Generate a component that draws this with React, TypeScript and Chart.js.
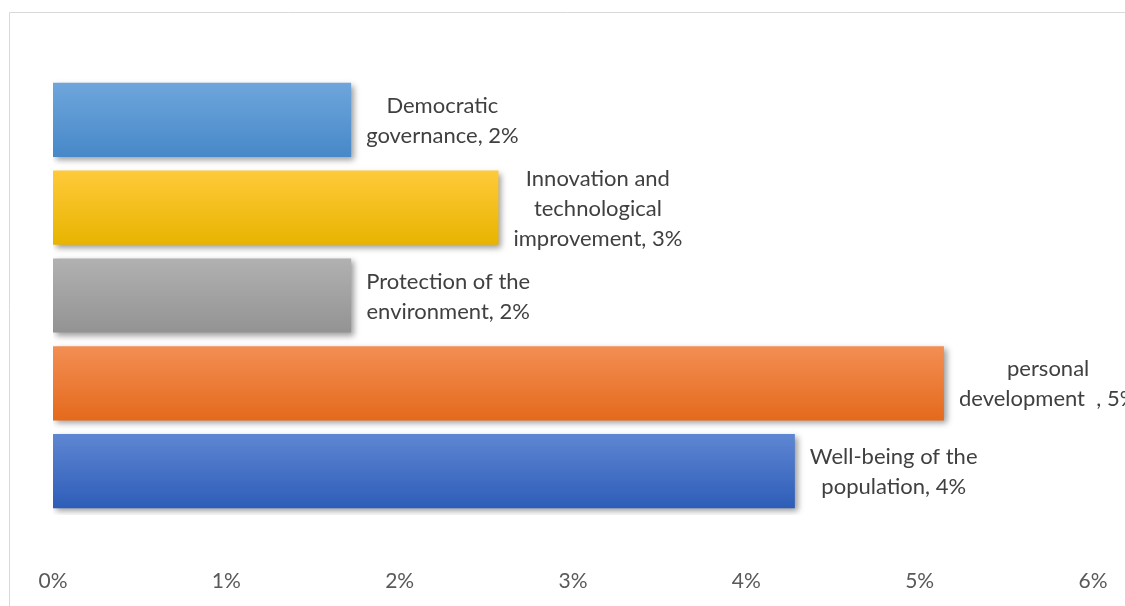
import React, { useEffect, useRef } from "react";
import { Chart, registerables } from "chart.js";

Chart.register(...registerables);

const categories: string[][] = [
  ["Democratic", "governance, 2%"],
  ["Innovation and", "technological", "improvement, 3%"],
  ["Protection of the", "environment, 2%"],
  ["personal", "development  , 5%"],
  ["Well-being of the", "population, 4%"],
];
const values: number[] = [1.72, 2.57, 1.72, 5.14, 4.28];
const gradientTops: string[] = ["#6EA6DC", "#FFCA3A", "#B1B1B1", "#F38E54", "#5E86D2"];
const gradientBottoms: string[] = ["#4788C8", "#E7B400", "#939393", "#E46A1C", "#2E5DB8"];
const tickMin = 0;
const tickMax = 6;
const tickStep = 1;

const FONT = "Lato, 'Open Sans', sans-serif";

export default function App() {
  const ref = useRef<HTMLCanvasElement | null>(null);
  useEffect(() => {
    const canvas = ref.current!;
    const labelPlugin = {
      id: "labelsAndShadow",
      beforeDraw(chart: any) {
        const ctx = chart.ctx;
        ctx.save();
        ctx.strokeStyle = "#d9d9d9";
        ctx.lineWidth = 1;
        ctx.beginPath();
        ctx.moveTo(9.5, 606);
        ctx.lineTo(9.5, 12.5);
        ctx.lineTo(1125, 12.5);
        ctx.stroke();
        ctx.restore();
      },
      beforeDatasetsDraw(chart: any) {
        const ctx = chart.ctx;
        ctx.save();
        ctx.shadowColor = "rgba(0,0,0,0.38)";
        ctx.shadowBlur = 6;
        ctx.shadowOffsetX = 3;
        ctx.shadowOffsetY = 3;
      },
      afterDatasetsDraw(chart: any) {
        const ctx = chart.ctx;
        ctx.restore();
        const meta = chart.getDatasetMeta(0);
        ctx.save();
        ctx.font = `22px ${FONT}`;
        ctx.fillStyle = "#404040";
        ctx.textAlign = "center";
        ctx.textBaseline = "middle";
        const lh = 30;
        meta.data.forEach((el: any, i: number) => {
          const lines = categories[i];
          const maxW = Math.max(...lines.map((l) => ctx.measureText(l).width));
          const cx = el.x + 15 + maxW / 2;
          const startY = el.y + 1 - ((lines.length - 1) * lh) / 2;
          lines.forEach((l, j) => ctx.fillText(l, cx, startY + j * lh));
        });
        ctx.restore();
      },
    };
    const chart = new Chart(canvas, {
      type: "bar",
      data: {
        labels: categories.map((c) => c.join(" ")),
        datasets: [
          {
            data: values,
            barPercentage: 1,
            categoryPercentage: 0.845,
            backgroundColor: (context: any) => {
              const ch = context.chart;
              const i = context.dataIndex;
              const ys = ch.scales?.y;
              if (!ys || i === undefined) return gradientTops[i ?? 0];
              const c = ys.getPixelForTick(i);
              const h = 37;
              const g = ch.ctx.createLinearGradient(0, c - h, 0, c + h);
              g.addColorStop(0, gradientTops[i]);
              g.addColorStop(1, gradientBottoms[i]);
              return g;
            },
            borderWidth: 0,
          },
        ],
      },
      options: {
        indexAxis: "y",
        responsive: false,
        animation: false,
        layout: { padding: { left: 53, right: 32, top: 76, bottom: 0 } },
        plugins: { legend: { display: false }, tooltip: { enabled: false } },
        scales: {
          y: { display: false },
          x: {
            min: tickMin,
            max: tickMax,
            grid: { display: false },
            border: { display: false },
            ticks: {
              stepSize: tickStep,
              padding: 46,
              color: "#595959",
              font: { family: FONT, size: 21 },
              callback: (v: any) => `${v}%`,
              maxRotation: 0,
            },
            afterFit: (s: any) => {
              s.height = 91;
              s.paddingLeft = 0;
              s.paddingRight = 0;
            },
          },
        },
      },
      plugins: [labelPlugin],
    } as any);
    return () => chart.destroy();
  }, []);
  return (
    <div style={{ position: "fixed", left: 0, top: 0, width: 1125, height: 606, background: "#fff" }}>
      <canvas ref={ref} width={1125} height={606} />
    </div>
  );
}
